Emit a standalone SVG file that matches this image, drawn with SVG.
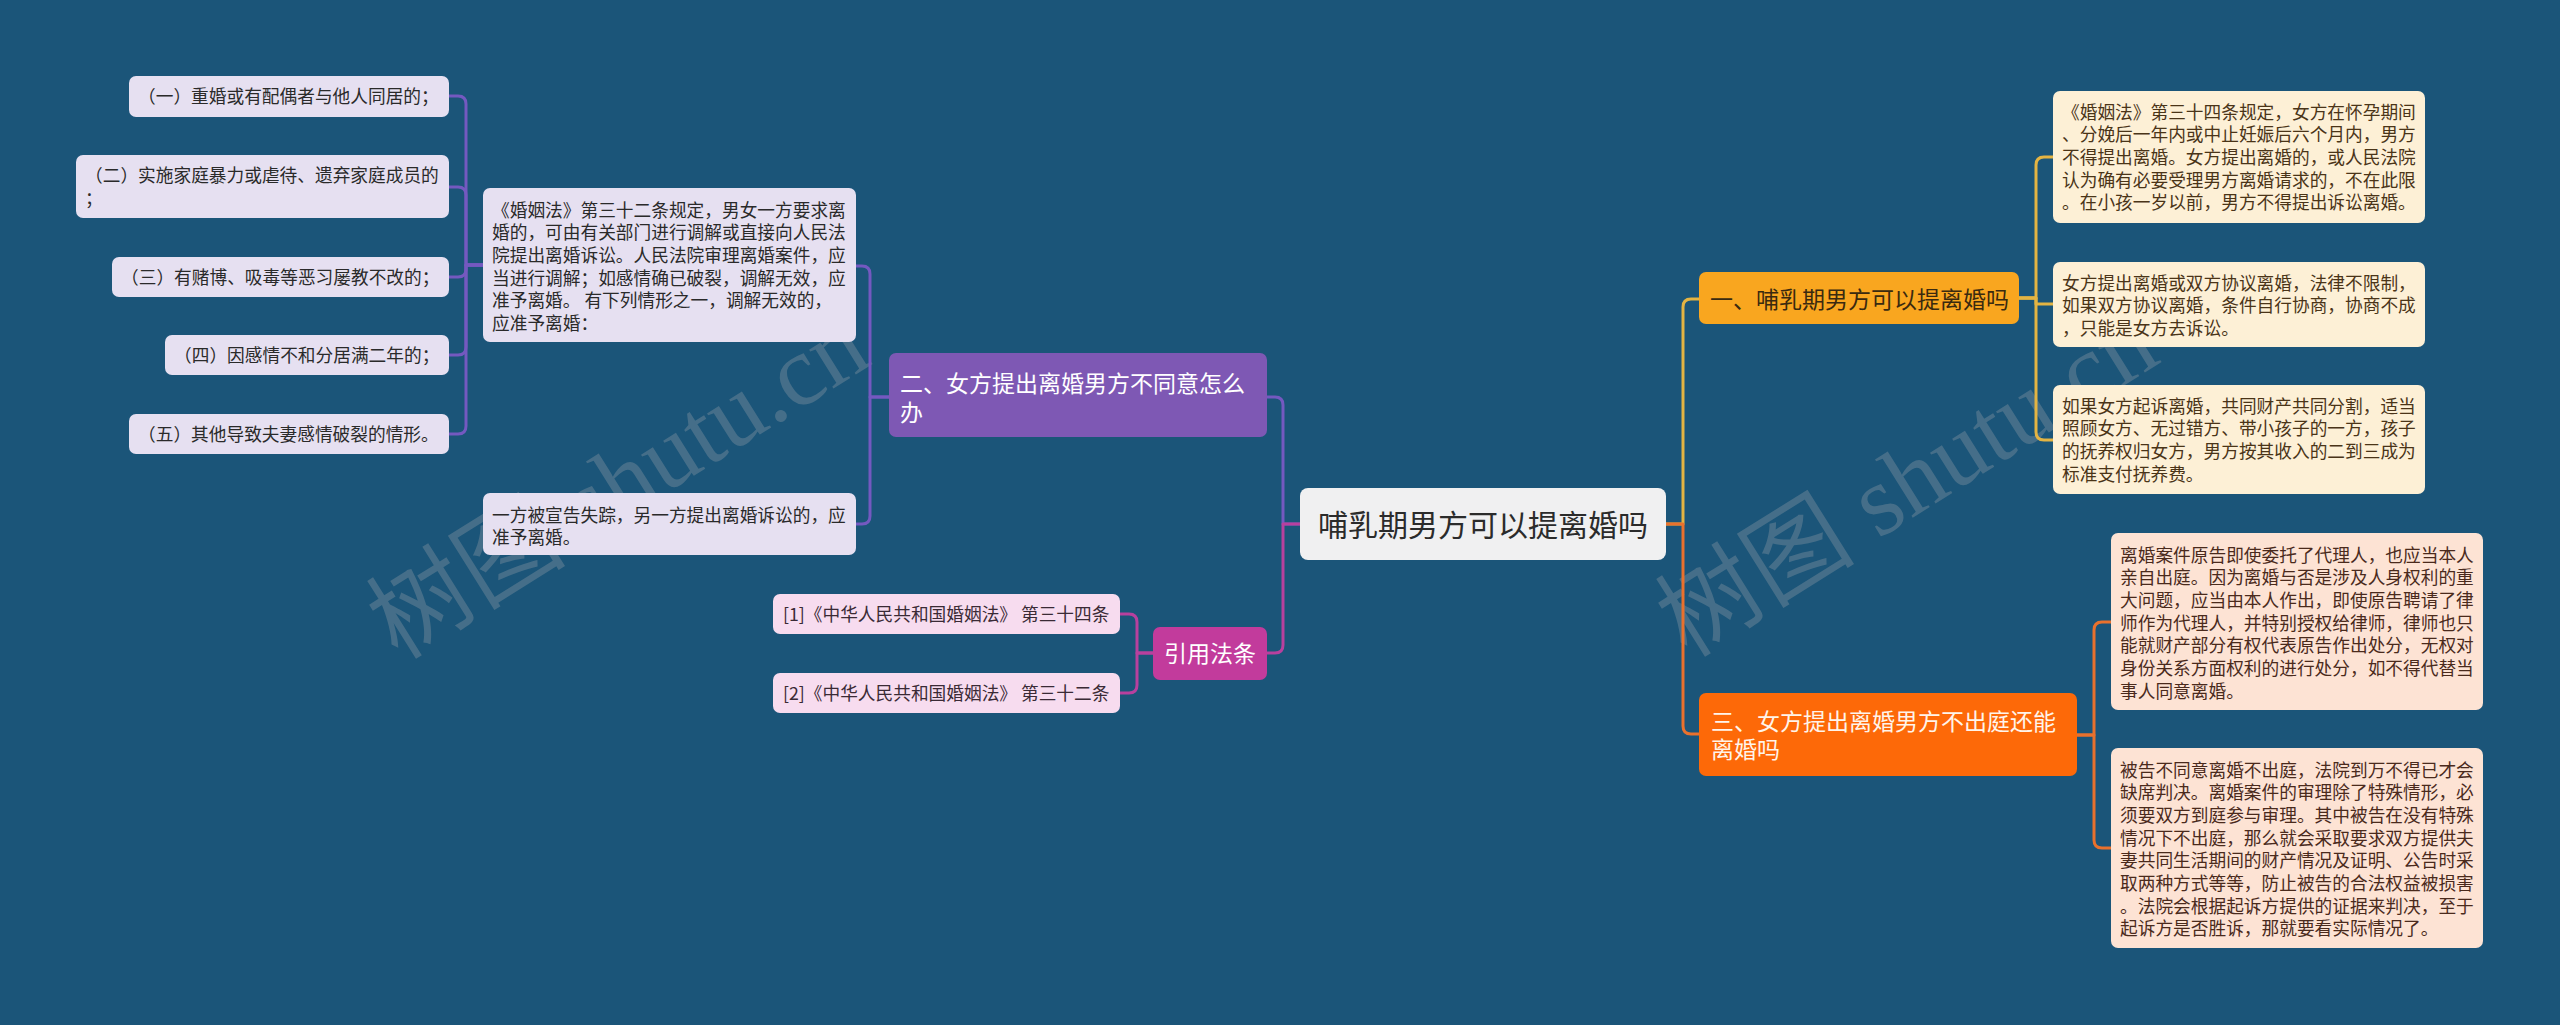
<svg xmlns="http://www.w3.org/2000/svg" width="2560" height="1025" viewBox="0 0 2560 1025">
<style>
text{font-family:"Noto Sans CJK SC","Noto Sans",sans-serif;}
.wm{font-family:"Liberation Serif","Noto Sans CJK SC",serif;font-size:100px;fill:#9aa3ab;opacity:0.33;}
.leaf{font-size:17.7px;}
.pl{fill:#e6e0f1;}
.pt{fill:#2a2a2a;}
.cl{fill:#f7dcef;}
.ct{fill:#3a2a35;}
.gl{fill:#fdf0d6;}
.gt{fill:#4a3418;}
.ol{fill:#fde3d4;}
.ot{fill:#4a2a1c;}
.cp{fill:none;stroke-width:3;stroke-linejoin:round;stroke-linecap:round;}
.pu{stroke:#7459c0;}
.mg{stroke:#b8409e;}
.go{stroke:#e4b443;}
.or{stroke:#e9712d;}
</style>
<rect width="2560" height="1025" fill="#1b5579"/>
<text class="wm" transform="translate(636,512) rotate(-32)" text-anchor="middle">树图 shutu.cn</text>
<text class="wm" transform="translate(1925,510) rotate(-32)" text-anchor="middle">树图 shutu.cn</text>
<g id="connectors">
<path class="cp pu" d="M1300,524 H1283 V405 Q1283,397 1275,397 H1267"/>
<path class="cp mg" d="M1300,524 H1283 V645 Q1283,653 1275,653 H1267"/>
<path class="cp go" d="M1666,524 H1683 V307 Q1683,299 1691,299 H1699"/>
<path class="cp or" d="M1666,524 H1683 V726 Q1683,734 1691,734 H1699"/>
<path class="cp go" d="M2019,298 H2036 V165 Q2036,157 2044,157 H2053"/>
<path class="cp go" d="M2019,298 H2036 V304 H2053"/>
<path class="cp go" d="M2019,298 H2036 V432 Q2036,440 2044,440 H2053"/>
<path class="cp or" d="M2077,735 H2094 V630 Q2094,622 2102,622 H2111"/>
<path class="cp or" d="M2077,735 H2094 V840 Q2094,848 2102,848 H2111"/>
<path class="cp pu" d="M889,397 H870 V274 Q870,266 862,266 H856"/>
<path class="cp pu" d="M889,397 H870 V516 Q870,524 862,524 H856"/>
<path class="cp pu" d="M483,265 H466 V104 Q466,96 458,96 H449"/>
<path class="cp pu" d="M483,265 H466 V195 Q466,187 458,187 H449"/>
<path class="cp pu" d="M483,265 H466 V269 Q466,277 458,277 H449"/>
<path class="cp pu" d="M483,265 H466 V347 Q466,355 458,355 H449"/>
<path class="cp pu" d="M483,265 H466 V426 Q466,434 458,434 H449"/>
<path class="cp mg" d="M1153,653 H1137 V622 Q1137,614 1129,614 H1120"/>
<path class="cp mg" d="M1153,653 H1137 V685 Q1137,693 1129,693 H1120"/>
</g>
<g id="root">
<rect x="1300" y="488" width="366" height="72" rx="8" fill="#f0f0f1"/>
<text x="1483" y="536" font-size="30" fill="#2b2b2b" text-anchor="middle">哺乳期男方可以提离婚吗</text>
</g>
<g id="b2">
<rect x="889" y="353" width="378" height="84" rx="7" fill="#7e58b4"/>
<text font-size="23" fill="#ffffff"><tspan x="900" y="391.5">二、女方提出离婚男方不同意怎么</tspan><tspan x="900" y="420.5">办</tspan></text>
</g>
<g id="b4">
<rect x="1153" y="627" width="114" height="53" rx="7" fill="#c23b9c"/>
<text x="1210" y="662" font-size="23" fill="#ffffff" text-anchor="middle">引用法条</text>
</g>
<g id="b1">
<rect x="1699" y="272" width="320" height="52" rx="7" fill="#f9a61f"/>
<text x="1710" y="307.5" font-size="23" fill="#3a2a10">一、哺乳期男方可以提离婚吗</text>
</g>
<g id="b3">
<rect x="1699" y="693" width="378" height="83" rx="7" fill="#fd6908"/>
<text font-size="23" fill="#fff4ea"><tspan x="1711" y="729.5">三、女方提出离婚男方不出庭还能</tspan><tspan x="1711" y="757.5">离婚吗</tspan></text>
</g>
<g id="l21">
<rect class="pl" x="483" y="188" width="373" height="154" rx="7"/>
<text class="leaf pt"><tspan x="492" y="216.5">《婚姻法》第三十二条规定，男女一方要求离</tspan><tspan x="492" y="239.2">婚的，可由有关部门进行调解或直接向人民法</tspan><tspan x="492" y="261.9">院提出离婚诉讼。人民法院审理离婚案件，应</tspan><tspan x="492" y="284.6">当进行调解；如感情确已破裂，调解无效，应</tspan><tspan x="492" y="307.3">准予离婚。 有下列情形之一，调解无效的，</tspan><tspan x="492" y="330">应准予离婚：</tspan></text>
</g>
<g id="l22">
<rect class="pl" x="483" y="493" width="373" height="62" rx="7"/>
<text class="leaf pt"><tspan x="492" y="521.5">一方被宣告失踪，另一方提出离婚诉讼的，应</tspan><tspan x="492" y="544.2">准予离婚。</tspan></text>
</g>
<g id="i1">
<rect class="pl" x="129" y="76" width="320" height="41" rx="7"/>
<text class="leaf pt" x="138" y="103">（一）重婚或有配偶者与他人同居的；</text>
</g>
<g id="i2">
<rect class="pl" x="76" y="155" width="373" height="63" rx="7"/>
<text class="leaf pt"><tspan x="85" y="182">（二）实施家庭暴力或虐待、遗弃家庭成员的</tspan><tspan x="85" y="204.7">；</tspan></text>
</g>
<g id="i3">
<rect class="pl" x="112" y="257" width="337" height="40" rx="7"/>
<text class="leaf pt" x="121" y="283.5">（三）有赌博、吸毒等恶习屡教不改的；</text>
</g>
<g id="i4">
<rect class="pl" x="165" y="335" width="284" height="40" rx="7"/>
<text class="leaf pt" x="174" y="361.5">（四）因感情不和分居满二年的；</text>
</g>
<g id="i5">
<rect class="pl" x="129" y="414" width="320" height="40" rx="7"/>
<text class="leaf pt" x="138" y="440.5">（五）其他导致夫妻感情破裂的情形。</text>
</g>
<g id="c1">
<rect class="cl" x="773" y="594" width="347" height="40" rx="7"/>
<text class="leaf ct" x="783" y="620.5">[1]《中华人民共和国婚姻法》 第三十四条</text>
</g>
<g id="c2">
<rect class="cl" x="773" y="673" width="347" height="40" rx="7"/>
<text class="leaf ct" x="783" y="699.5">[2]《中华人民共和国婚姻法》 第三十二条</text>
</g>
<g id="la">
<rect class="gl" x="2053" y="91" width="372" height="132" rx="7"/>
<text class="leaf gt"><tspan x="2062" y="118.5">《婚姻法》第三十四条规定，女方在怀孕期间</tspan><tspan x="2062" y="141.2">、分娩后一年内或中止妊娠后六个月内，男方</tspan><tspan x="2062" y="163.9">不得提出离婚。女方提出离婚的，或人民法院</tspan><tspan x="2062" y="186.6">认为确有必要受理男方离婚请求的，不在此限</tspan><tspan x="2062" y="209.3">。在小孩一岁以前，男方不得提出诉讼离婚。</tspan></text>
</g>
<g id="lb">
<rect class="gl" x="2053" y="262" width="372" height="85" rx="7"/>
<text class="leaf gt"><tspan x="2062" y="289.5">女方提出离婚或双方协议离婚，法律不限制，</tspan><tspan x="2062" y="312.2">如果双方协议离婚，条件自行协商，协商不成</tspan><tspan x="2062" y="334.9">，只能是女方去诉讼。</tspan></text>
</g>
<g id="lc">
<rect class="gl" x="2053" y="385" width="372" height="109" rx="7"/>
<text class="leaf gt"><tspan x="2062" y="412.5">如果女方起诉离婚，共同财产共同分割，适当</tspan><tspan x="2062" y="435.2">照顾女方、无过错方、带小孩子的一方，孩子</tspan><tspan x="2062" y="457.9">的抚养权归女方，男方按其收入的二到三成为</tspan><tspan x="2062" y="480.6">标准支付抚养费。</tspan></text>
</g>
<g id="ld">
<rect class="ol" x="2111" y="533" width="372" height="177" rx="7"/>
<text class="leaf ot"><tspan x="2120" y="561.5">离婚案件原告即使委托了代理人，也应当本人</tspan><tspan x="2120" y="584.2">亲自出庭。因为离婚与否是涉及人身权利的重</tspan><tspan x="2120" y="606.9">大问题，应当由本人作出，即使原告聘请了律</tspan><tspan x="2120" y="629.6">师作为代理人，并特别授权给律师，律师也只</tspan><tspan x="2120" y="652.3">能就财产部分有权代表原告作出处分，无权对</tspan><tspan x="2120" y="675">身份关系方面权利的进行处分，如不得代替当</tspan><tspan x="2120" y="697.7">事人同意离婚。</tspan></text>
</g>
<g id="le">
<rect class="ol" x="2111" y="748" width="372" height="200" rx="7"/>
<text class="leaf ot"><tspan x="2120" y="776.5">被告不同意离婚不出庭，法院到万不得已才会</tspan><tspan x="2120" y="799.2">缺席判决。离婚案件的审理除了特殊情形，必</tspan><tspan x="2120" y="821.9">须要双方到庭参与审理。其中被告在没有特殊</tspan><tspan x="2120" y="844.6">情况下不出庭，那么就会采取要求双方提供夫</tspan><tspan x="2120" y="867.3">妻共同生活期间的财产情况及证明、公告时采</tspan><tspan x="2120" y="890">取两种方式等等，防止被告的合法权益被损害</tspan><tspan x="2120" y="912.7">。法院会根据起诉方提供的证据来判决，至于</tspan><tspan x="2120" y="935.4">起诉方是否胜诉，那就要看实际情况了。</tspan></text>
</g>
</svg>
